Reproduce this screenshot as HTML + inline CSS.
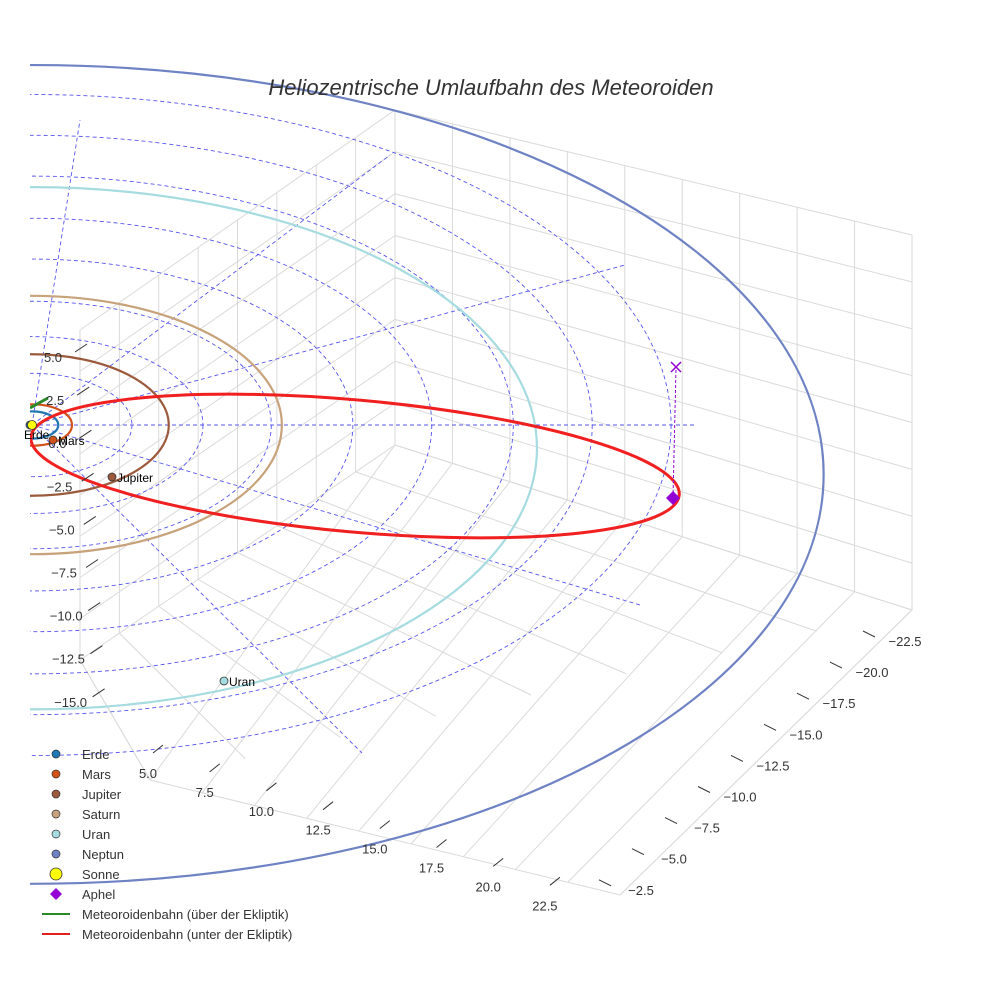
<!DOCTYPE html>
<html><head><meta charset="utf-8"><style>
body{margin:0;background:#fff;font-family:"Liberation Sans",sans-serif}
svg text{font-family:"Liberation Sans",sans-serif}
</style></head><body>
<svg id="c" width="984" height="984" viewBox="0 0 984 984">
<defs><clipPath id="clip"><rect x="30" y="0" width="954" height="984"/></clipPath></defs>
<g id="grid" stroke="#dadada" stroke-width="1" fill="none"></g>
<g id="dash" clip-path="url(#clip)" stroke="#5555ee" stroke-width="0.9" stroke-dasharray="4,3" fill="none"></g>
<g id="orb" clip-path="url(#clip)" fill="none"></g>
<g id="ticks" font-size="13" fill="#333"></g>
<g id="marks"></g>
<text x="491" y="95" text-anchor="middle" font-size="22" font-style="italic" fill="#333">Heliozentrische Umlaufbahn des Meteoroiden</text>
<g id="legend" font-size="13" fill="#333"></g>
</svg>
<script>
const planetNames=["Erde","Mars","Jupiter","Saturn","Uran","Neptun"];
const planetAU=[1.0,1.52,5.2,9.5,19.2,30.1];
const planetColors=["#1f77b4","#d2521b","#9c5a3c","#c8a27a","#a6dce0","#6e82c4"];
const dashRadiiAU=[3.8,6.5,9.1,12.2,15.2,18.3,21.3,24.3];
const yTicks=["5.0","2.5","0.0","\u22122.5","\u22125.0","\u22127.5","\u221210.0","\u221212.5","\u221215.0"];
const xTicks=["5.0","7.5","10.0","12.5","15.0","17.5","20.0","22.5"];
const zTicks=["\u221222.5","\u221220.0","\u221217.5","\u221215.0","\u221212.5","\u221210.0","\u22127.5","\u22125.0","\u22122.5"];
const meteorPerihelAU=0.05, meteorAphelAU=24.6;

const NS="http://www.w3.org/2000/svg";
const sunX=32,sunY=425,sx=26.3,sy=13.6;
function px(au,ang){return sunX+au*sx*Math.cos(ang*Math.PI/180);}
function cyOf(au){return sunY+Math.max(0,au-9.5)*2.4;}
function mk(tag,attrs,parent){const e=document.createElementNS(NS,tag);for(const k in attrs)e.setAttribute(k,attrs[k]);parent.appendChild(e);return e;}

// grid box
const G=document.getElementById('grid');
function lerp(a,b,t){return [a[0]+(b[0]-a[0])*t,a[1]+(b[1]-a[1])*t];}
function line(a,b,p){mk('line',{x1:a[0],y1:a[1],x2:b[0],y2:b[1]},p);}
const BT=[395,110],RT=[912,235],BB=[395,445],RB=[912,610],LT=[80,330],LB=[80,660],FR=[620,895],FL=[150,780];
for(let i=0;i<=9;i++){const t=i/9;line(lerp(BT,RT,t),lerp(BB,RB,t),G);}
for(let i=0;i<=8;i++){const t=i/8;line(lerp(BT,BB,t),lerp(RT,RB,t),G);}
for(let i=0;i<=8;i++){const t=i/8;line(lerp(LT,BT,t),lerp(LB,BB,t),G);line(lerp(LT,LB,t),lerp(BT,BB,t),G);}
for(let i=0;i<=9;i++){const t=i/9;line(lerp(BB,RB,t),lerp(FL,FR,t),G);}
for(let i=0;i<=8;i++){const t=i/8;line(lerp(LB,BB,t),lerp(FL,RB,t),G);}
line(LB,FL,G);line(FL,FR,G);line(RB,FR,G);

// dashed reference
const D=document.getElementById('dash');
dashRadiiAU.forEach(r=>{mk('ellipse',{cx:sunX,cy:sunY,rx:r*sx,ry:r*sy},D);});
mk('line',{x1:sunX,y1:sunY,x2:px(25.2,0),y2:sunY},D);
[[80,120],[390,155],[625,265],[640,605],[362,753]].forEach(p=>{mk('line',{x1:sunX,y1:sunY,x2:p[0],y2:p[1]},D);});

// planet orbits
const O=document.getElementById('orb');
planetAU.forEach((r,i)=>{const e=mk('ellipse',{cx:sunX,cy:cyOf(r),rx:r*sx,ry:r*sy,stroke:planetColors[i],'stroke-width':2.2},O);

});
// meteoroid orbit
const p1=[px(meteorPerihelAU,180),sunY+15],p2=[px(meteorAphelAU,0),498];
const mcx=(p1[0]+p2[0])/2,mcy=(p1[1]+p2[1])/2,ma=Math.hypot(p2[0]-p1[0],p2[1]-p1[1])/2,mang=Math.atan2(p2[1]-p1[1],p2[0]-p1[0])*180/Math.PI;
const me=mk('ellipse',{cx:mcx,cy:mcy-3,rx:ma,ry:66,transform:`rotate(${mang} ${mcx} ${mcy})`,stroke:'#f02020','stroke-width':3},O);


const mg=mk('path',{d:'M30,408 L48,398',stroke:'#2a8a2a','stroke-width':3},O);



// ticks
const T=document.getElementById('ticks');
yTicks.forEach((t,i)=>{const y=357+i*43.1,x=53+i*2.2;const e=mk('text',{x:x,y:y+5,'text-anchor':'middle'},T);e.textContent=t;
mk('line',{x1:x+22,y1:y-5,x2:x+34,y2:y-13,stroke:'#333'},T);});
xTicks.forEach((t,i)=>{const x=148+i*56.7,y=773+i*18.9;const e=mk('text',{x:x,y:y+5,'text-anchor':'middle'},T);e.textContent=t;
mk('line',{x1:x+5,y1:y-20,x2:x+15,y2:y-28,stroke:'#333'},T);});
zTicks.forEach((t,i)=>{const x=905-i*33,y=641+i*31.1;const e=mk('text',{x:x,y:y+5,'text-anchor':'middle'},T);e.textContent=t;
mk('line',{x1:x-30,y1:y-4,x2:x-42,y2:y-10,stroke:'#333'},T);});

// markers
const M=document.getElementById('marks');
const planetPos=[[30,425],[53,440],[112,477],null,[224,681],null];
planetPos.forEach((p,i)=>{if(!p)return;const c=mk('circle',{cx:p[0],cy:p[1],r:4,fill:planetColors[i],stroke:'#333','stroke-width':0.8},M);


const tx=mk('text',{x:i==0?24:p[0]+5,y:i==0?439:p[1]+5,'font-size':12,fill:'#000'},M);tx.textContent=planetNames[i];});
mk('circle',{cx:32,cy:425,r:4.5,fill:'#ffff00',stroke:'#333','stroke-width':0.8},M);
mk('line',{x1:673,y1:498,x2:676,y2:368,stroke:'#9400d3','stroke-width':1,'stroke-dasharray':'3,2'},M);
mk('path',{d:'M671,362 L681,372 M681,362 L671,372',stroke:'#9400d3','stroke-width':1.5},M);
mk('path',{d:'M673,491 L680,498 L673,505 L666,498 Z',fill:'#9400d3'},M);

// legend
const L=document.getElementById('legend');
const legNames=planetNames.concat(["Sonne","Aphel","Meteoroidenbahn (über der Ekliptik)","Meteoroidenbahn (unter der Ekliptik)"]);
legNames.forEach((n,i)=>{const y=754+i*20;const g=mk('g',{},L);


if(i<6)mk('circle',{cx:56,cy:y,r:4,fill:planetColors[i],stroke:'#333','stroke-width':0.7},g);
else if(i==6)mk('circle',{cx:56,cy:y,r:6,fill:'#ffff00',stroke:'#333','stroke-width':0.8},g);
else if(i==7)mk('path',{d:`M56,${y-6} L62,${y} L56,${y+6} L50,${y} Z`,fill:'#9400d3'},g);
else mk('line',{x1:42,y1:y,x2:70,y2:y,stroke:i==8?'#2a8a2a':'#e02020','stroke-width':2},g);
const t=mk('text',{x:82,y:y+5},g);t.textContent=n;});
</script>
</body></html>
